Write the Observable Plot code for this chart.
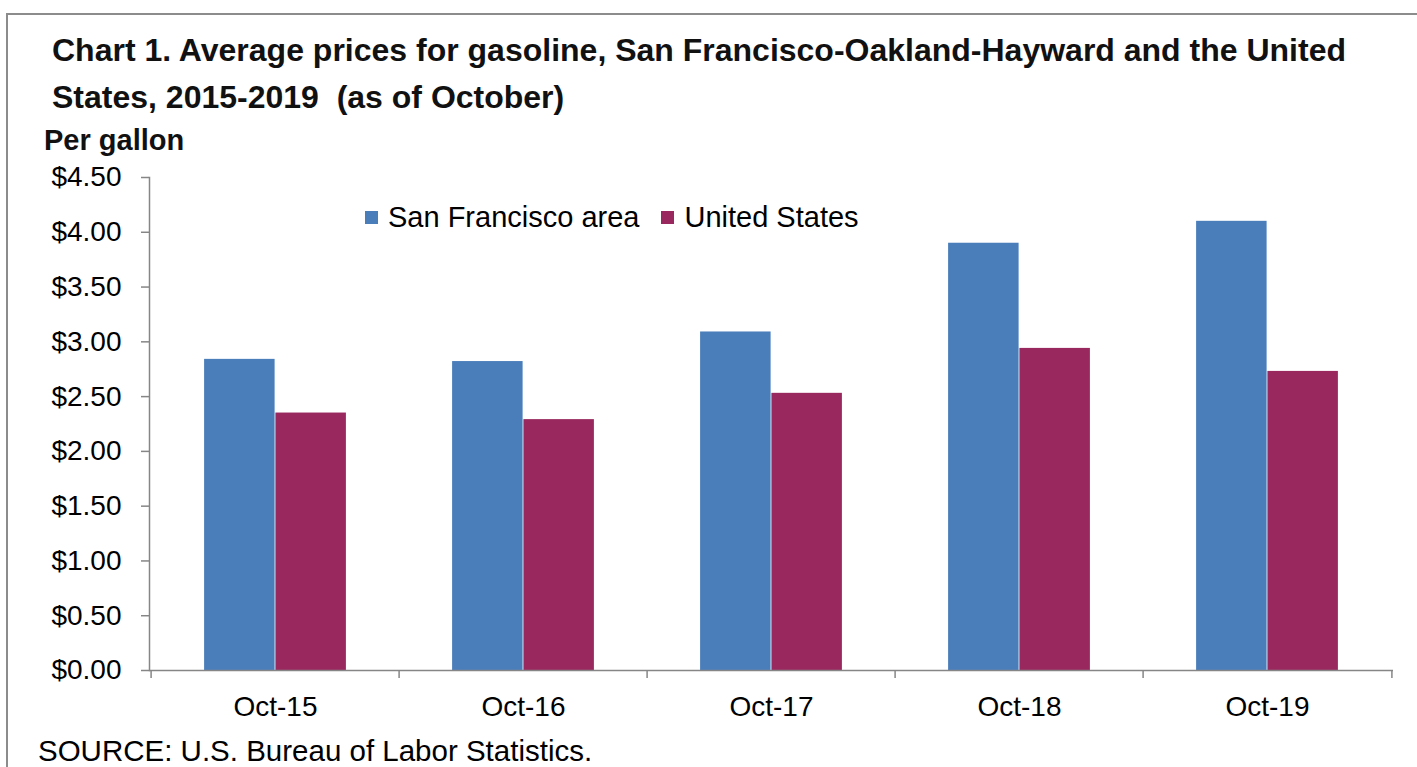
<!DOCTYPE html>
<html>
<head>
<meta charset="utf-8">
<script src="https://cdn.jsdelivr.net/npm/d3@7"></script>
<script src="https://cdn.jsdelivr.net/npm/@observablehq/plot@0.6"></script>
<style>
  html, body { margin: 0; padding: 0; background: #fff; }
  #chart { position: relative; width: 1417px; height: 767px; overflow: hidden; background: #fff; font-family: "Liberation Sans", Arial, sans-serif; color: #000; }
  .frame { position: absolute; left: 6px; top: 13px; right: -4px; bottom: -4px; border-top: 2px solid #8c8c8c; border-left: 2px solid #8c8c8c; }
  .title { position: absolute; left: 52px; top: 27px; font-weight: bold; font-size: 32px; line-height: 47px; white-space: nowrap; color: #111; }
  .ylab { position: absolute; left: 44px; top: 126px; font-weight: bold; font-size: 29px; line-height: 29px; white-space: nowrap; color: #111; }
  #plot { position: absolute; left: 0; top: 160px; }
  .legend { position: absolute; left: 365px; top: 203px; display: flex; align-items: center; font-size: 29px; line-height: 29px; white-space: nowrap; }
  .legend .sw { width: 13px; height: 13px; margin-right: 10px; display: inline-block; }
  .legend .item { display: flex; align-items: center; margin-right: 22px; }
  .source { position: absolute; left: 38px; top: 736px; font-size: 29.5px; line-height: 29px; white-space: nowrap; }
</style>
</head>
<body>
<div id="chart">
  <div class="frame"></div>
  <div class="title">Chart 1. Average prices for gasoline, San Francisco-Oakland-Hayward and the United<br>States, 2015-2019&nbsp; (as of October)</div>
  <div class="ylab">Per gallon</div>
  <div id="plot"></div>
  <div class="legend" id="legend"></div>
  <div class="source">SOURCE: U.S. Bureau of Labor Statistics.</div>
</div>
<script>
// ---- data ----
const periods = ["Oct-15", "Oct-16", "Oct-17", "Oct-18", "Oct-19"];
const seriesNames = ["San Francisco area", "United States"];
const sfValues = [2.84, 2.82, 3.09, 3.90, 4.10];
const usValues = [2.35, 2.29, 2.53, 2.94, 2.73];
const yTicks = [0, 0.5, 1, 1.5, 2, 2.5, 3, 3.5, 4, 4.5];
const seriesColors = ["#4a7ebb", "#98285e"];

// ---- layout ----
const W = 1417, H = 565;
const mLeft = 149, mRight = 24, mTop = 17, mBottom = 55;
const bw = (W - mLeft - mRight) / periods.length;
const barW = 71.3;
const outer = bw / 2 - barW;
const gray = "#868686";

const rows = periods.flatMap((p, i) => [
  {period: p, series: seriesNames[0], value: sfValues[i]},
  {period: p, series: seriesNames[1], value: usValues[i]}
]);

const plot = Plot.plot({
  width: W,
  height: H,
  marginLeft: mLeft,
  marginRight: mRight,
  marginTop: mTop,
  marginBottom: mBottom,
  style: {fontFamily: "'Liberation Sans', Arial, sans-serif", fontSize: "28px", color: "#000", background: "transparent", overflow: "visible"},
  x: {domain: periods, padding: 0, label: null},
  y: {domain: [0, 4.5], label: null},
  color: {domain: seriesNames, range: seriesColors},
  marks: [
    Plot.barY(rows.filter(d => d.series === seriesNames[0]), {x: "period", y: "value", fill: "series", insetLeft: outer, insetRight: bw / 2}),
    Plot.barY(rows.filter(d => d.series === seriesNames[1]), {x: "period", y: "value", fill: "series", insetLeft: bw / 2, insetRight: outer}),
    Plot.ruleY([0], {stroke: gray, strokeWidth: 1.5}),
    Plot.frame({anchor: "left", stroke: gray, strokeWidth: 1.5}),
    Plot.axisY(yTicks, {tickSize: 8, tickPadding: 20, tickFormat: d => "$" + d.toFixed(2), stroke: gray, strokeWidth: 1.5, color: "#000", label: null}),
    Plot.axisX(periods, {tickSize: 8, dx: -bw / 2, text: null, stroke: gray, strokeWidth: 1.5, label: null}),
    Plot.axisX(periods.slice(-1), {tickSize: 8, dx: bw / 2, text: null, stroke: gray, strokeWidth: 1.5, label: null}),
    Plot.axisX(periods, {tickSize: 0, tickPadding: 26, color: "#000", label: null})
  ]
});
document.getElementById("plot").appendChild(plot);

// legend
const legend = document.getElementById("legend");
seriesNames.forEach((name, i) => {
  const item = document.createElement("span");
  item.className = "item";
  const sw = document.createElement("span");
  sw.className = "sw";
  sw.style.background = plot.scale("color").apply(name);
  item.appendChild(sw);
  item.appendChild(document.createTextNode(name));
  legend.appendChild(item);
});
</script>
</body>
</html>
